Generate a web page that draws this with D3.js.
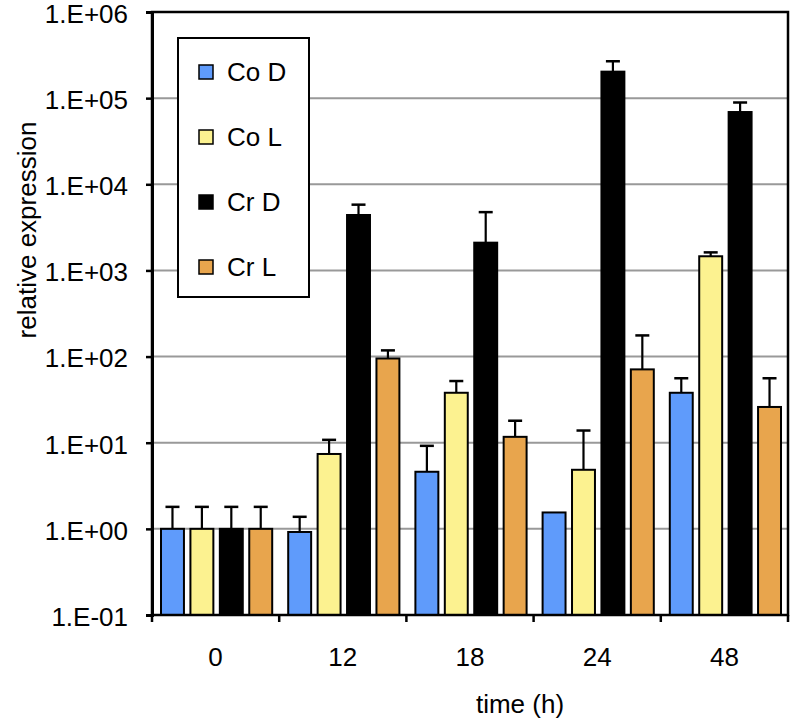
<!DOCTYPE html>
<html><head><meta charset="utf-8">
<script src="https://cdn.jsdelivr.net/npm/d3@7"></script>
<style>body{margin:0;background:#fff;} svg{display:block;font-family:Arial,"Liberation Sans",sans-serif;}</style>
</head><body>
<svg id="c" width="793" height="721"></svg>
<script>
const categories = ["0", "12", "18", "24", "48"];
const seriesNames = ["Co D", "Co L", "Cr D", "Cr L"];
const coD = [1, 0.92, 4.6, 1.55, 38];
const coL = [1, 7.4, 38, 4.85, 1460];
const crD = [1, 4400, 2100, 203000, 69000];
const crL = [1, 95, 11.7, 71, 26];
const coDErr = [0.8, 0.46, 4.6, 0, 18];
const coLErr = [0.8, 3.4, 14, 9, 160];
const crDErr = [0.8, 1400, 2650, 65000, 20000];
const crLErr = [0.8, 23, 6.3, 105, 30];
const yTicks = [1e-1, 1e0, 1e1, 1e2, 1e3, 1e4, 1e5, 1e6];
const colors = ["#5f9bfb", "#fcf290", "#000000", "#e8a54d"];

const values = [coD, coL, crD, crL];
const errs = [coDErr, coLErr, crDErr, crLErr];

const svg = d3.select("#c");
const L = 152, R = 788, T = 12, B = 615;
const y = d3.scaleLog().domain([0.1, 1e6]).range([B, T]);
const x0 = d3.scaleBand().domain(categories).range([L, R]).padding(0);
const x1 = d3.scaleBand().domain(seriesNames).range([9, x0.bandwidth() - 7]).paddingInner(0.22);

const fmt = v => { const e = Math.round(Math.log10(v)); return "1.E" + (e < 0 ? "-" : "+") + String(Math.abs(e)).padStart(2, "0"); };

// gridlines
svg.append("g").selectAll("line").data(yTicks.filter(v => v > 0.1 && v < 1e6)).join("line")
  .attr("x1", L).attr("x2", R).attr("y1", d => y(d)).attr("y2", d => y(d))
  .attr("stroke", "#999").attr("stroke-width", 2);

// bars
const data = [];
categories.forEach((c, i) => seriesNames.forEach((s, j) => data.push({c, s, j, v: values[j][i], e: errs[j][i]})));

const g = svg.append("g");
// error bars (behind bars)
const eb = g.selectAll("g.err").data(data.filter(d => d.e > 0)).join("g");
eb.append("line")
  .attr("x1", d => x0(d.c) + x1(d.s) + x1.bandwidth() / 2)
  .attr("x2", d => x0(d.c) + x1(d.s) + x1.bandwidth() / 2)
  .attr("y1", d => y(d.v)).attr("y2", d => y(d.v + d.e))
  .attr("stroke", "#000").attr("stroke-width", 2.2);
eb.append("line")
  .attr("x1", d => x0(d.c) + x1(d.s) + x1.bandwidth() / 2 - 7)
  .attr("x2", d => x0(d.c) + x1(d.s) + x1.bandwidth() / 2 + 7)
  .attr("y1", d => y(d.v + d.e)).attr("y2", d => y(d.v + d.e))
  .attr("stroke", "#000").attr("stroke-width", 2.5);

g.selectAll("rect").data(data).join("rect")
  .attr("x", d => x0(d.c) + x1(d.s))
  .attr("width", x1.bandwidth())
  .attr("y", d => y(d.v))
  .attr("height", d => B - y(d.v))
  .attr("fill", d => colors[d.j])
  .attr("stroke", "#000").attr("stroke-width", 2);

// frame
svg.append("rect").attr("x", L).attr("y", T).attr("width", R - L).attr("height", B - T)
  .attr("fill", "none").attr("stroke", "#000").attr("stroke-width", 2.5);

// y axis
const ya = svg.append("g").attr("transform", `translate(${L},0)`)
  .call(d3.axisLeft(y).tickValues(yTicks).tickFormat(fmt).tickSize(6).tickPadding(18));
ya.select(".domain").attr("stroke-width", 3);
ya.selectAll(".tick line").attr("stroke-width", 2.5);
ya.selectAll("text").attr("font-size", 26).attr("dy", "0.4em").attr("fill", "#000").attr("font-family", "Arial, 'Liberation Sans', sans-serif");

// x axis: labels at centers, ticks at boundaries
const xa = svg.append("g").attr("transform", `translate(0,${B})`)
  .call(d3.axisBottom(x0).tickSize(0).tickPadding(33));
xa.select(".domain").remove();
xa.selectAll("text").attr("font-size", 26).attr("fill", "#000").attr("font-family", "Arial, 'Liberation Sans', sans-serif");
const bounds = categories.map(c => x0(c)).concat([R]);
svg.append("g").selectAll("line").data(bounds).join("line")
  .attr("x1", d => d).attr("x2", d => d).attr("y1", B).attr("y2", B + 7)
  .attr("stroke", "#000").attr("stroke-width", 2.5);

// axis titles
svg.append("text").attr("transform", "translate(36,230) rotate(-90)")
  .attr("text-anchor", "middle").attr("font-size", 26).text("relative expression");
svg.append("text").attr("x", 520).attr("y", 713)
  .attr("text-anchor", "middle").attr("font-size", 26).text("time (h)");

// legend
const lg = svg.append("g");
lg.append("rect").attr("x", 178).attr("y", 38).attr("width", 131).attr("height", 259)
  .attr("fill", "#fff").attr("stroke", "#000").attr("stroke-width", 2);
const ly = d3.scalePoint().domain(seriesNames).range([72, 267]);
const li = lg.selectAll("g.li").data(seriesNames).join("g").attr("transform", d => `translate(0,${ly(d)})`);
li.append("rect").attr("x", 199).attr("y", -7).attr("width", 14).attr("height", 14)
  .attr("fill", (d, i) => colors[i]).attr("stroke", "#000").attr("stroke-width", 1.5);
li.append("text").attr("x", 227).attr("y", 9).attr("font-size", 26).text(d => d);
</script>
</body></html>
